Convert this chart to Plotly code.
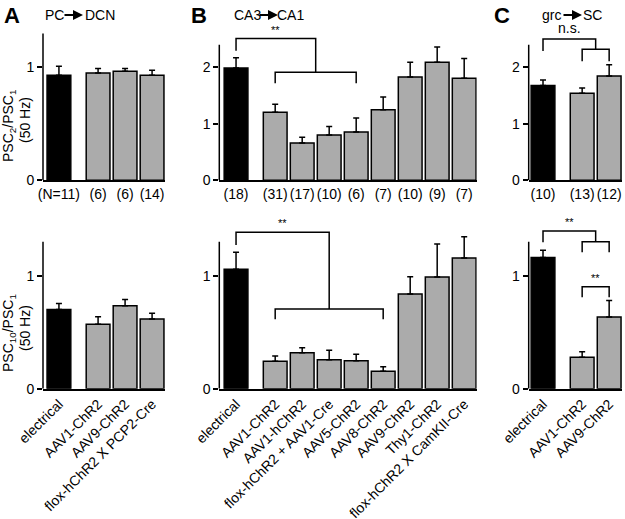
import plotly.graph_objects as go

# panel A: PC -> DCN
a_labels = ["electrical", "AAV1-ChR2", "AAV9-ChR2", "flox-hChR2 X PCP2-Cre"]
a_n = ["(N=11)", "(6)", "(6)", "(14)"]
a_psc2 = [0.93, 0.95, 0.965, 0.93]
a_psc2_err = [0.08, 0.04, 0.025, 0.045]
a_psc10 = [0.70, 0.57, 0.735, 0.617]
a_psc10_err = [0.055, 0.067, 0.055, 0.05]

# panel B: CA3 -> CA1
b_labels = ["electrical", "AAV1-ChR2", "AAV1-hChR2", "flox-hChR2 + AAV1-Cre", "AAV5-ChR2",
            "AAV8-ChR2", "AAV9-ChR2", "Thy1-ChR2", "flox-hChR2 X CamKII-Cre"]
b_n = ["(18)", "(31)", "(17)", "(10)", "(6)", "(7)", "(10)", "(9)", "(7)"]
b_psc2 = [1.98, 1.20, 0.66, 0.80, 0.85, 1.245, 1.82, 2.08, 1.80]
b_psc2_err = [0.18, 0.14, 0.10, 0.15, 0.25, 0.225, 0.26, 0.27, 0.35]
b_psc10 = [1.057, 0.242, 0.319, 0.257, 0.248, 0.154, 0.838, 0.988, 1.157]
b_psc10_err = [0.15, 0.048, 0.044, 0.083, 0.056, 0.041, 0.152, 0.292, 0.188]

# panel C: grc -> SC
c_labels = ["electrical", "AAV1-ChR2", "AAV9-ChR2"]
c_n = ["(10)", "(13)", "(12)"]
c_psc2 = [1.67, 1.535, 1.84]
c_psc2_err = [0.10, 0.095, 0.20]
c_psc10 = [1.16, 0.278, 0.635]
c_psc10_err = [0.065, 0.049, 0.145]

W, H = 625, 519
FONT = "Liberation Sans, Arial, sans-serif"
GRAY = "#ababab"


def pos(n):
    return [0] + [1.45 + i for i in range(n - 1)]


def px_x(p):
    return p / W


def px_y(p):
    return 1 - p / H


fig = go.Figure()

cols = [
    dict(x0=43, x1=165, start=-0.59, top_unit=113, top_max=1.3, top_ticks=[0, 1],
         labels=a_labels, n=a_n, v2=a_psc2, e2=a_psc2_err, v10=a_psc10, e10=a_psc10_err),
    dict(x0=219.3, x1=476.7, start=-0.62, top_unit=56.7, top_max=2.39, top_ticks=[0, 1, 2],
         labels=b_labels, n=b_n, v2=b_psc2, e2=b_psc2_err, v10=b_psc10, e10=b_psc10_err),
    dict(x0=528.7, x1=622, start=-0.53, top_unit=56.7, top_max=2.39, top_ticks=[0, 1, 2],
         labels=c_labels, n=c_n, v2=c_psc2, e2=c_psc2_err, v10=c_psc10, e10=c_psc10_err),
]

TOP_ZERO, TOP_TOP = 180.3, 30
BOT_ZERO, BOT_TOP = 388.7, 225
BOT_UNIT = 113
SPACING = 27

layout = {}
shapes = []
line_style = dict(color="black", width=1.5)

for ci, c in enumerate(cols):
    xs = pos(len(c["labels"]))
    colors = ["black"] + [GRAY] * (len(xs) - 1)
    xend = c["start"] + (c["x1"] - c["x0"]) / SPACING
    for row in range(2):
        k = ci + 1 + 3 * row
        suffix = "" if k == 1 else str(k)
        vals = c["v2"] if row == 0 else c["v10"]
        errs = c["e2"] if row == 0 else c["e10"]
        fig.add_trace(go.Bar(
            x=xs, y=vals, width=0.88,
            marker=dict(color=colors, line=dict(color="black", width=1.5)),
            error_y=dict(type="data", array=errs, arrayminus=[0] * len(errs), symmetric=False,
                         color="black", thickness=1.5, width=3),
            xaxis="x" + suffix, yaxis="y" + suffix, showlegend=False, hoverinfo="skip",
        ))
        if row == 0:
            zero, topp, unit, ymax, ticks = TOP_ZERO, TOP_TOP, c["top_unit"], c["top_max"], c["top_ticks"]
            ticktext, angle = c["n"], 0
        else:
            zero, topp, unit, ymax, ticks = BOT_ZERO, BOT_TOP, BOT_UNIT, 1.3, [0, 1]
            ticktext, angle = c["labels"], -45
        layout["xaxis" + suffix] = dict(
            domain=[px_x(c["x0"]), px_x(c["x1"])], range=[c["start"], xend],
            anchor="y" + suffix, showline=True, linecolor="black", linewidth=1.5,
            showgrid=False, zeroline=False, ticks="", tickvals=xs, ticktext=ticktext,
            tickangle=angle, tickfont=dict(size=14, color="black", family=FONT),
            automargin=False,
        )
        layout["yaxis" + suffix] = dict(
            domain=[px_y(zero), px_y(topp)], range=[0, (zero - topp) / unit],
            anchor="x" + suffix, showline=False, showgrid=False, zeroline=False,
            ticks="outside", ticklen=5, tickwidth=1.5, tickcolor="black",
            tickvals=ticks, tickfont=dict(size=14, color="black", family=FONT),
            automargin=False,
        )
        shapes.append(dict(type="line", xref="paper", yref="y" + suffix,
                           x0=px_x(c["x0"]), x1=px_x(c["x0"]), y0=0, y1=ymax, line=line_style))


def bracket(xr, yr, xa, xb, ytop, yla, ylb):
    shapes.append(dict(type="path", xref=xr, yref=yr, line=line_style,
                       path=f"M{xa},{yla} L{xa},{ytop} L{xb},{ytop} L{xb},{ylb}"))


ann = []


def label(xr, yr, x, y, text, size=11):
    ann.append(dict(xref=xr, yref=yr, x=x, y=y, text=text, showarrow=False, yanchor="bottom",
                    font=dict(size=size, family=FONT, color="black"), yshift=1))


# B top
bracket("x2", "y2", 0, 2.95, 2.50, 2.285, 1.905)
bracket("x2", "y2", 1.45, 4.45, 1.905, 1.71, 1.71)
label("x2", "y2", 1.475, 2.50, "**")
# B bottom
bracket("x5", "y5", 0, 3.45, 1.384, 1.272, 0.705)
bracket("x5", "y5", 1.45, 5.45, 0.705, 0.614, 0.614)
label("x5", "y5", 1.725, 1.384, "**")
# C top
bracket("x3", "y3", 0, 1.95, 2.49, 2.28, 2.31)
bracket("x3", "y3", 1.45, 2.45, 2.31, 2.10, 2.10)
label("x3", "y3", 0.975, 2.49, "n.s.", 14)
# C bottom
bracket("x6", "y6", 0, 1.95, 1.395, 1.295, 1.30)
bracket("x6", "y6", 1.45, 2.45, 1.30, 1.207, 1.207)
label("x6", "y6", 0.975, 1.395, "**")
bracket("x6", "y6", 1.45, 2.45, 0.903, 0.809, 0.809)
label("x6", "y6", 1.95, 0.903, "**")


def ptext(x, y, text, size=14, bold=False, angle=0):
    ann.append(dict(xref="paper", yref="paper", x=px_x(x), y=px_y(y), text=f"<b>{text}</b>" if bold else text,
                    showarrow=False, textangle=angle, xanchor="center", yanchor="middle",
                    font=dict(size=size, family=FONT, color="black")))


def arrow(x0, x1, y):
    ann.append(dict(xref="paper", yref="paper", axref="pixel", ayref="pixel",
                    x=px_x(x1), y=px_y(y), ax=x0 - x1, ay=0, text="",
                    showarrow=True, arrowhead=2, arrowsize=1, arrowwidth=2, arrowcolor="black"))


ptext(12, 15, "A", 22, True)
ptext(54, 15, "PC", 14)
arrow(63, 83, 15)
ptext(100, 15, "DCN", 14)
ptext(199, 15, "B", 22, True)
ptext(247, 15, "CA3", 14)
arrow(258, 278, 15)
ptext(290, 15, "CA1", 14)
ptext(502, 15, "C", 22, True)
ptext(551, 15, "grc", 14)
arrow(562, 582, 15)
ptext(592, 15, "SC", 14)

ptext(9, 126, "PSC<sub>2</sub>/PSC<sub>1</sub>", 14, angle=-90)
ptext(25, 120, "(50 Hz)", 14, angle=-90)
ptext(9, 333, "PSC<sub>10</sub>/PSC<sub>1</sub>", 14, angle=-90)
ptext(25, 328, "(50 Hz)", 14, angle=-90)

fig.update_layout(
    width=W, height=H, margin=dict(l=0, r=0, t=0, b=0, autoexpand=False),
    paper_bgcolor="white", plot_bgcolor="white",
    font=dict(family=FONT, color="black"),
    shapes=shapes, annotations=ann, **layout,
)

fig.write_html("out.html", config={"displayModeBar": False},
               post_script="document.body.style.margin = '0';")
